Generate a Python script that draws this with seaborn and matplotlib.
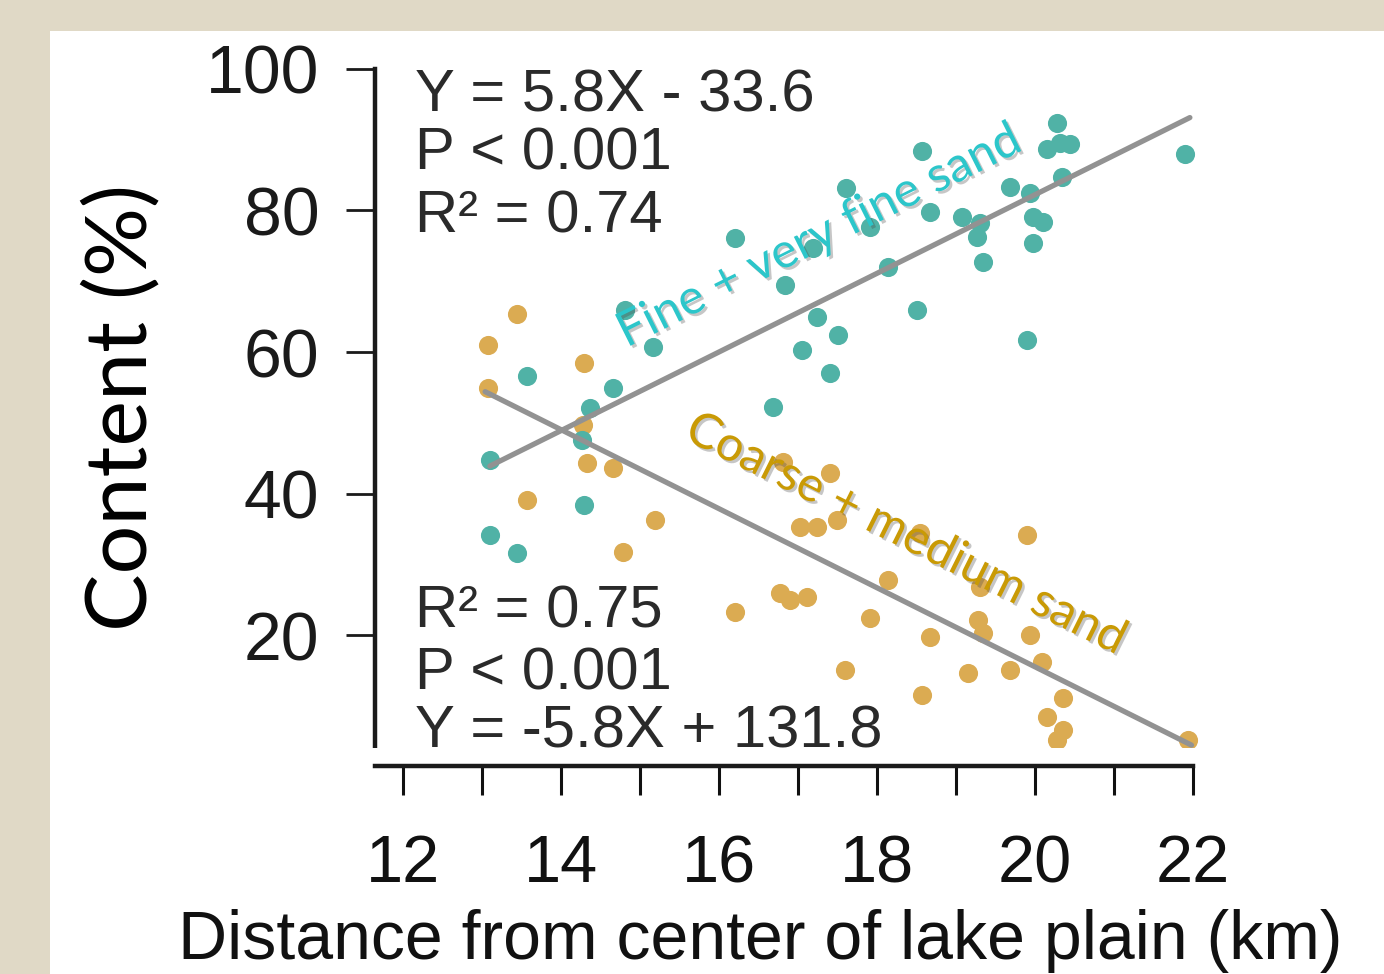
import matplotlib
matplotlib.use('Agg')
import matplotlib.pyplot as plt
import matplotlib.patheffects as pe
from matplotlib.patches import Rectangle
import seaborn as sns

# values
# fine + very fine sand (teal)
fine_x = [13.10, 13.10, 13.44, 13.57, 14.29, 14.27, 14.37, 14.66, 14.81, 15.16,
          16.20, 16.68, 16.84, 17.05, 17.19, 17.24, 17.41, 17.51, 17.61, 17.91,
          18.14, 18.51, 18.57, 18.67, 19.08, 19.30, 19.27, 19.34, 19.68, 19.94,
          19.97, 20.10, 19.97, 20.28, 20.32, 20.15, 20.44, 20.34, 21.90, 19.90]
fine_y = [44.8, 34.2, 31.6, 56.6, 38.4, 47.6, 52.1, 54.9, 66.0, 60.7,
          76.1, 52.3, 69.5, 60.3, 74.7, 65.0, 57.1, 62.4, 83.1, 77.7,
          72.0, 66.0, 88.4, 79.8, 79.1, 78.2, 76.3, 72.7, 83.3, 82.5,
          79.1, 78.4, 75.4, 92.4, 89.5, 88.6, 89.3, 84.7, 87.9, 61.7]

# coarse + medium sand (orange)
coarse_x = [13.08, 13.44, 14.29, 13.08, 14.33, 14.66, 14.28, 13.57, 15.19, 14.78,
            16.20, 16.77, 16.90, 17.11, 16.81, 17.41, 17.03, 17.24, 17.49, 18.54,
            19.90, 18.14, 17.91, 18.67, 19.28, 19.34, 19.94, 19.30, 17.59, 19.15,
            19.68, 20.09, 18.57, 20.35, 20.15, 20.35, 20.28, 21.94]
coarse_y = [61.0, 65.3, 58.5, 54.9, 44.4, 43.6, 49.7, 39.1, 36.3, 31.8,
            23.3, 26.0, 25.0, 25.4, 44.5, 42.9, 35.3, 35.3, 36.3, 34.5,
            34.2, 27.8, 22.5, 19.8, 22.2, 20.3, 20.1, 26.8, 15.1, 14.7,
            15.1, 16.2, 11.6, 11.2, 8.5, 6.6, 5.2, 5.2]

# fitted lines (end points as drawn)
fine_line_x = [13.10, 21.96]
fine_line_y = [43.9, 93.1]
coarse_line_x = [13.04, 21.98]
coarse_line_y = [54.4, 4.5]

fine_stats = ['Y = 5.8X - 33.6', 'P < 0.001', 'R² = 0.74']
coarse_stats = ['R² = 0.75', 'P < 0.001', 'Y = -5.8X + 131.8']

x_major = [12, 14, 16, 18, 20, 22]
x_minor = [13, 15, 17, 19, 21]
y_major = [20, 40, 60, 80, 100]

teal = '#50b2a6'
gold = '#dbab52'
teal_txt = '#2cc6ca'
gold_txt = '#c99a05'

sns.set_style('ticks')
plt.rcParams['font.family'] = ['Liberation Sans', 'DejaVu Sans']

W, H = 1384, 974
fig = plt.figure(figsize=(W / 100, H / 100), dpi=100, facecolor='#e0d9c6')
fig.patches.append(Rectangle((50 / W, 0), 1 - 50 / W, (H - 31) / H,
                             transform=fig.transFigure, facecolor='white',
                             edgecolor='none', zorder=-10))

ax = fig.add_axes([375 / W, (H - 766) / H, 840 / W, 698 / H])
ax.set_facecolor('none')

sns.scatterplot(x=coarse_x, y=coarse_y, color=gold, s=190, linewidth=0, ax=ax, zorder=2)
sns.scatterplot(x=fine_x, y=fine_y, color=teal, s=190, linewidth=0, ax=ax, zorder=3)
sns.lineplot(x=fine_line_x, y=fine_line_y, color='#929292', lw=3.8, ax=ax, zorder=4)
sns.lineplot(x=coarse_line_x, y=coarse_line_y, color='#929292', lw=3.8, ax=ax, zorder=4)

ax.set_xlim(11.646, 22.278)
ax.set_ylim(1.55, 100.1)
sns.despine(ax=ax)
ax.spines['left'].set_bounds(4.1, 100)
ax.spines['bottom'].set_bounds(11.646, 22)
for s in ['left', 'bottom']:
    ax.spines[s].set_linewidth(3.2)
    ax.spines[s].set_color('#1a1a1a')

ax.set_xticks(x_major)
ax.set_xticks(x_minor, minor=True)
ax.set_yticks(y_major)
ax.tick_params(axis='y', length=21, width=2, pad=19, labelsize=49,
               colors='#1a1a1a', direction='out')
ax.tick_params(axis='x', which='both', length=21, width=2.2, pad=28,
               labelsize=48, colors='#111111', direction='out')

ax.set_ylabel('Content (%)', fontsize=62, family=['Lato', 'DejaVu Sans'],
              color='black', ha='center', va='center')
ax.yaxis.set_label_coords(-0.301, 0.514)
ax.set_xlabel('Distance from center of lake plain (km)', fontsize=49,
              color='#111111', ha='left', va='baseline')
ax.xaxis.set_label_coords((178 - 375) / 840, (766 - 959) / 698)

for txt, yy in zip(fine_stats, [0.938, 0.855, 0.764]):
    ax.text(0.0476, yy, txt, transform=ax.transAxes, fontsize=43,
            color='#2a2a2a', va='baseline', ha='left')
for txt, yy in zip(coarse_stats, [0.198, 0.110, 0.026]):
    ax.text(0.0476, yy, txt, transform=ax.transAxes, fontsize=43,
            color='#2a2a2a', va='baseline', ha='left')

shadow = [pe.withSimplePatchShadow(offset=(1.8, -1.8), shadow_rgbFace='#444444', alpha=0.3)]
ax.text(14.83, 60.6, 'Fine + very fine sand', rotation=26.5, rotation_mode='anchor',
        ha='left', va='baseline', fontsize=35, color=teal_txt,
        family=['Lato', 'DejaVu Sans'], path_effects=shadow, zorder=6)
ax.text(15.54, 47.8, 'Coarse + medium sand', rotation=-26.5, rotation_mode='anchor',
        ha='left', va='baseline', fontsize=35, color=gold_txt,
        family=['Lato', 'DejaVu Sans'], path_effects=shadow, zorder=6)

# white strip that cuts the lower end of the y axis in the original
fig.patches.append(Rectangle((350 / W, (H - 759) / H), 850 / W, 11 / H,
                             transform=fig.transFigure, facecolor='white',
                             edgecolor='none', zorder=5))

fig.savefig('out.png', dpi=100, facecolor=fig.get_facecolor())
